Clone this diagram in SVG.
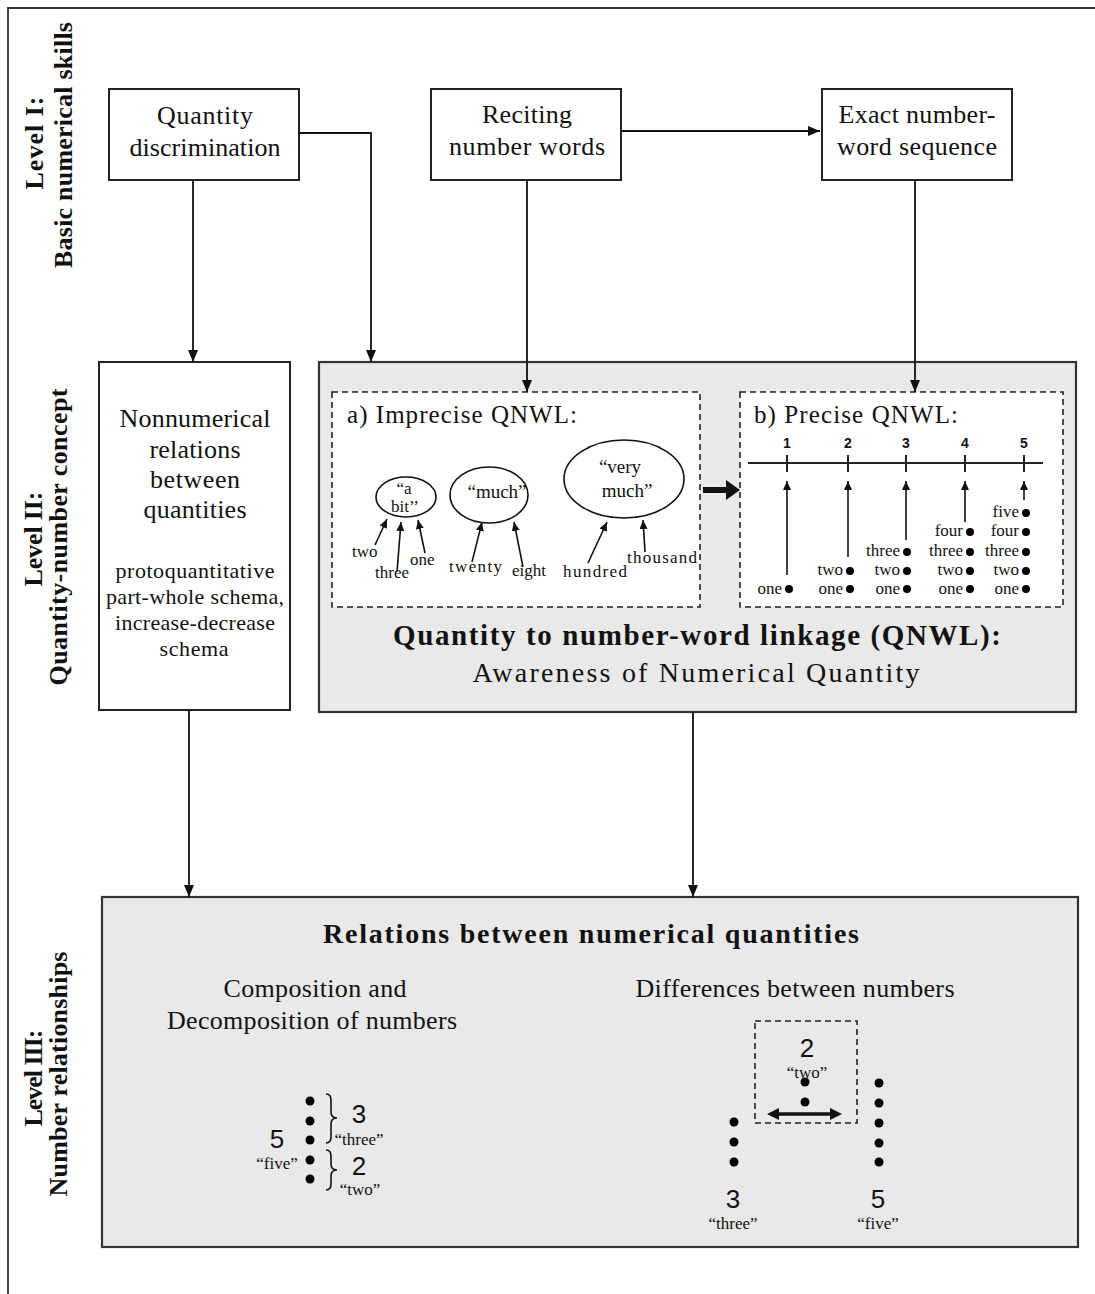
<svg xmlns="http://www.w3.org/2000/svg" width="1095" height="1294" viewBox="0 0 1095 1294">
<defs>
<marker id="ah" viewBox="0 0 12 10" refX="12" refY="5" markerWidth="12" markerHeight="10" markerUnits="userSpaceOnUse" orient="auto"><path d="M0,0 L12,5 L0,10 z" fill="#111"/></marker>
<marker id="sh" viewBox="0 0 9 8" refX="9" refY="4" markerWidth="9" markerHeight="8" markerUnits="userSpaceOnUse" orient="auto"><path d="M0,0 L9,4 L0,8 z" fill="#111"/></marker>
</defs>
<style>
text{font-family:"Liberation Serif","Times New Roman",serif;fill:#111}
.box{fill:#fff;stroke:#222;stroke-width:2}
.gray{fill:#e9e9e9;stroke:#333;stroke-width:2.2}
.dash{fill:#fff;stroke:#222;stroke-width:1.6;stroke-dasharray:6,4}
.t26{font-size:26px;text-anchor:middle}
.t22{font-size:22px;text-anchor:middle}
.lvl{font-size:26px;font-weight:bold;text-anchor:middle}
.w{font-size:17px}
.wr{font-size:17px;text-anchor:end}
.wc{font-size:17px;text-anchor:middle}
.sans{font-family:"Liberation Sans",Arial,sans-serif}
.conn{fill:none;stroke:#111;stroke-width:1.8}
.thin{fill:none;stroke:#111;stroke-width:1.6}
.dot{fill:#000}
</style>
<rect width="1095" height="1294" fill="#fff"/>
<path d="M8,1294 V8 H1095" fill="none" stroke="#333" stroke-width="1.8"/>

<g id="level-labels">
<text class="lvl" transform="translate(43,143) rotate(-90)" textLength="93">Level I:</text>
<text class="lvl" transform="translate(72,145) rotate(-90)" textLength="246">Basic numerical  skills</text>
<text class="lvl" transform="translate(42,539) rotate(-90)" textLength="95">Level II:</text>
<text class="lvl" transform="translate(67,537) rotate(-90)" textLength="297">Quantity-number  concept</text>
<text class="lvl" transform="translate(42,1078) rotate(-90)" textLength="97">Level III:</text>
<text class="lvl" transform="translate(67,1074) rotate(-90)" textLength="245">Number relationships</text>
</g>

<g id="node-quantity-discrimination">
<rect class="box" x="109" y="89" width="190" height="91"/>
<text class="t26" x="205" y="124" textLength="96">Quantity</text>
<text class="t26" x="205" y="156" textLength="151">discrimination</text>
</g>

<g id="node-reciting">
<rect class="box" x="431" y="89" width="190" height="91"/>
<text class="t26" x="527" y="123" textLength="90">Reciting</text>
<text class="t26" x="527" y="155" textLength="156">number words</text>
</g>

<g id="node-exact-sequence">
<rect class="box" x="822" y="89" width="190" height="91"/>
<text class="t26" x="917" y="123" textLength="157">Exact number-</text>
<text class="t26" x="917" y="155" textLength="160">word sequence</text>
</g>

<g id="node-nonnumerical">
<rect class="box" x="99" y="362" width="191" height="348"/>
<text class="t26" x="195" y="427" textLength="151">Nonnumerical</text>
<text class="t26" x="195" y="458" textLength="91">relations</text>
<text class="t26" x="195" y="488" textLength="90">between</text>
<text class="t26" x="195" y="518" textLength="103">quantities</text>
<text class="t22" x="195" y="578" textLength="159">protoquantitative</text>
<text class="t22" x="195" y="604" textLength="178">part-whole schema,</text>
<text class="t22" x="195" y="630" textLength="160">increase-decrease</text>
<text class="t22" x="194" y="656" textLength="69">schema</text>
</g>

<g id="node-qnwl">
<rect class="gray" x="319" y="362" width="757" height="350"/>
<text x="697" y="645" font-size="29" font-weight="bold" text-anchor="middle" textLength="608">Quantity to number-word linkage (QNWL):</text>
<text x="696" y="682" font-size="28" text-anchor="middle" textLength="447">Awareness of Numerical Quantity</text>
</g>

<g id="node-imprecise">
<rect class="dash" x="332" y="392" width="368" height="215"/>
<text x="347" y="423" font-size="25" textLength="230">a) Imprecise  QNWL:</text>
<ellipse cx="406" cy="497" rx="30" ry="20" class="thin"/>
<text class="wc" x="404" y="494">“a</text>
<text class="wc" x="405" y="512">bit’’</text>
<ellipse cx="489" cy="495" rx="39" ry="28" class="thin"/>
<text x="497" y="498" font-size="19" text-anchor="middle">“much”</text>
<ellipse cx="624" cy="479" rx="60" ry="39" class="thin"/>
<text x="620" y="473" font-size="19" text-anchor="middle">“very</text>
<text x="627" y="497" font-size="19" text-anchor="middle">much”</text>
<text class="w" x="352" y="557">two</text>
<text class="w" x="375" y="578">three</text>
<text class="w" x="410" y="565">one</text>
<text class="w" x="449" y="572" textLength="53">twenty</text>
<text class="w" x="512" y="576">eight</text>
<text class="w" x="563" y="577" textLength="64">hundred</text>
<text class="w" x="627" y="563" textLength="70">thousand</text>
<path class="thin" d="M375,545 L387,519" marker-end="url(#sh)"/>
<path class="thin" d="M397,572 L401,522" marker-end="url(#sh)"/>
<path class="thin" d="M425,553 L418,520" marker-end="url(#sh)"/>
<path class="thin" d="M472,562 L482,522" marker-end="url(#sh)"/>
<path class="thin" d="M523,567 L514,522" marker-end="url(#sh)"/>
<path class="thin" d="M588,563 L607,522" marker-end="url(#sh)"/>
<path class="thin" d="M645,552 L643,520" marker-end="url(#sh)"/>
</g>

<g id="node-precise">
<rect class="dash" x="740" y="392" width="323" height="215"/>
<text x="754" y="423" font-size="25" textLength="204">b) Precise  QNWL:</text>
<path d="M748,463 H1043 M787,455 V472 M848,455 V472 M906,455 V472 M965,455 V472 M1024,455 V472" stroke="#222" stroke-width="2" fill="none"/>
<g class="sans" font-size="14" font-weight="bold" text-anchor="middle">
<text class="sans" x="787" y="448">1</text>
<text class="sans" x="848" y="448">2</text>
<text class="sans" x="906" y="448">3</text>
<text class="sans" x="965" y="448">4</text>
<text class="sans" x="1024" y="448">5</text>
</g>
<path class="thin" d="M787,575 V481" marker-end="url(#sh)"/>
<path class="thin" d="M848,557 V481" marker-end="url(#sh)"/>
<path class="thin" d="M906,540 V481" marker-end="url(#sh)"/>
<path class="thin" d="M965,522 V481" marker-end="url(#sh)"/>
<path class="thin" d="M1024,500 V481" marker-end="url(#sh)"/>
<text class="wr" x="782" y="594">one</text>
<circle class="dot" cx="789" cy="589" r="4"/>
<text class="wr" x="843" y="594">one</text>
<text class="wr" x="843" y="575">two</text>
<circle class="dot" cx="850" cy="589" r="4"/>
<circle class="dot" cx="850" cy="571" r="4"/>
<text class="wr" x="900" y="594">one</text>
<text class="wr" x="900" y="575">two</text>
<text class="wr" x="900" y="556">three</text>
<circle class="dot" cx="907" cy="589" r="4"/>
<circle class="dot" cx="907" cy="571" r="4"/>
<circle class="dot" cx="907" cy="552" r="4"/>
<text class="wr" x="963" y="594">one</text>
<text class="wr" x="963" y="575">two</text>
<text class="wr" x="963" y="556">three</text>
<text class="wr" x="963" y="536">four</text>
<circle class="dot" cx="970" cy="589" r="4"/>
<circle class="dot" cx="970" cy="571" r="4"/>
<circle class="dot" cx="970" cy="552" r="4"/>
<circle class="dot" cx="970" cy="532" r="4"/>
<text class="wr" x="1019" y="594">one</text>
<text class="wr" x="1019" y="575">two</text>
<text class="wr" x="1019" y="556">three</text>
<text class="wr" x="1019" y="536">four</text>
<text class="wr" x="1019" y="517">five</text>
<circle class="dot" cx="1026" cy="589" r="4"/>
<circle class="dot" cx="1026" cy="571" r="4"/>
<circle class="dot" cx="1026" cy="552" r="4"/>
<circle class="dot" cx="1026" cy="532" r="4"/>
<circle class="dot" cx="1026" cy="513" r="4"/>
</g>

<g id="node-relations">
<rect class="gray" x="102" y="897" width="976" height="350"/>
<text x="591" y="943" font-size="28" font-weight="bold" text-anchor="middle" textLength="536">Relations between numerical quantities</text>
<text x="315" y="997" font-size="26" text-anchor="middle" textLength="183">Composition and</text>
<text x="312" y="1029" font-size="26" text-anchor="middle" textLength="290">Decomposition of numbers</text>
<text x="795" y="997" font-size="26" text-anchor="middle" textLength="319">Differences between numbers</text>
<circle class="dot" cx="310" cy="1101" r="4.5"/>
<circle class="dot" cx="310" cy="1121" r="4.5"/>
<circle class="dot" cx="310" cy="1140" r="4.5"/>
<circle class="dot" cx="310" cy="1160" r="4.5"/>
<circle class="dot" cx="310" cy="1179" r="4.5"/>
<path class="thin" d="M326,1094 Q331,1094 331,1100 V1112 Q331,1118 337,1118 Q331,1118 331,1124 V1137 Q331,1143 326,1143"/>
<path class="thin" d="M326,1150 Q331,1150 331,1156 V1164 Q331,1170 337,1170 Q331,1170 331,1176 V1184 Q331,1190 326,1190"/>
<text class="sans" x="359" y="1123" font-size="26" text-anchor="middle">3</text>
<text class="wc" x="359" y="1145">“three”</text>
<text class="sans" x="359" y="1175" font-size="26" text-anchor="middle">2</text>
<text class="wc" x="360" y="1195">“two”</text>
<text class="sans" x="277" y="1148" font-size="26" text-anchor="middle">5</text>
<text class="wc" x="277" y="1169">“five”</text>

<rect class="dash" x="755" y="1021" width="102" height="102" style="fill:none"/>
<text class="sans" x="807" y="1057" font-size="26" text-anchor="middle">2</text>
<text class="wc" x="807" y="1078">“two”</text>
<circle class="dot" cx="805" cy="1082" r="4.5"/>
<circle class="dot" cx="805" cy="1102" r="4.5"/>
<path d="M777,1114 H832" stroke="#111" stroke-width="3.5"/>
<path d="M767,1114 L779,1108 L779,1120 z M842,1114 L830,1108 L830,1120 z" fill="#111"/>
<circle class="dot" cx="734" cy="1122" r="4.5"/>
<circle class="dot" cx="734" cy="1142" r="4.5"/>
<circle class="dot" cx="734" cy="1162" r="4.5"/>
<circle class="dot" cx="879" cy="1083" r="4.5"/>
<circle class="dot" cx="879" cy="1103" r="4.5"/>
<circle class="dot" cx="879" cy="1123" r="4.5"/>
<circle class="dot" cx="879" cy="1143" r="4.5"/>
<circle class="dot" cx="879" cy="1162" r="4.5"/>
<text class="sans" x="733" y="1208" font-size="26" text-anchor="middle">3</text>
<text class="wc" x="733" y="1229">“three”</text>
<text class="sans" x="878" y="1208" font-size="26" text-anchor="middle">5</text>
<text class="wc" x="878" y="1229">“five”</text>
</g>

<g id="connectors">
<path class="conn" d="M193,180 V362" marker-end="url(#ah)"/>
<path class="conn" d="M299,133 H371 V362" marker-end="url(#ah)"/>
<path class="conn" d="M621,131 H820" marker-end="url(#ah)"/>
<path class="conn" d="M527,180 V392" marker-end="url(#ah)"/>
<path class="conn" d="M915,180 V392" marker-end="url(#ah)"/>
<path class="conn" d="M189,710 V897" marker-end="url(#ah)"/>
<path class="conn" d="M693,712 V897" marker-end="url(#ah)"/>
<path d="M703,490 H728" stroke="#111" stroke-width="6"/>
<path d="M726,480 L740,490 L726,500 z" fill="#111"/>
</g>
</svg>
